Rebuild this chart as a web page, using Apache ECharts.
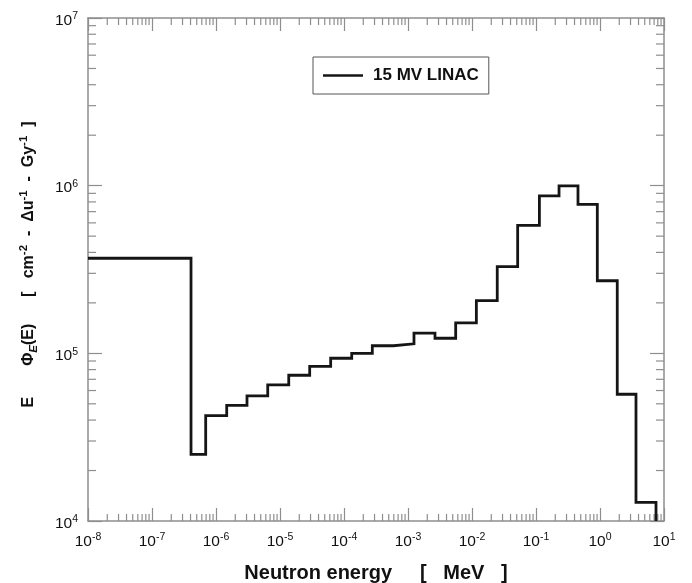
<!DOCTYPE html>
<html>
<head>
<meta charset="utf-8">
<script src="https://cdn.jsdelivr.net/npm/echarts@6/dist/echarts.min.js"></script>
<style>
html,body{margin:0;padding:0;background:#fff;}
#c{width:692px;height:583px;}
</style>
</head>
<body>
<div id="c"></div>
<script>
// Bin edges (MeV) of the step histogram
var binEdges = [1e-8, 4.07e-7, 6.9e-7, 1.47e-6, 3.05e-6, 6.43e-6, 1.37e-5, 2.91e-5, 6.19e-5,
  1.32e-4, 2.77e-4, 5.89e-4, 1.24e-3, 2.64e-3, 5.56e-3, 1.17e-2, 2.48e-2, 5.17e-2,
  0.113, 0.229, 0.453, 0.908, 1.86, 3.65, 7.5];
// Lethargy fluence per unit dose in each bin
var binValues = [3.69e5, 2.5e4, 4.25e4, 4.9e4, 5.57e4, 6.48e4, 7.4e4, 8.37e4, 9.35e4,
  1.0e5, 1.11e5, 1.14e5, 1.32e5, 1.23e5, 1.52e5, 2.06e5, 3.29e5, 5.8e5,
  8.68e5, 9.96e5, 7.74e5, 2.71e5, 5.7e4, 1.29e4];
var seriesName = '15 MV LINAC';
var xDecades = [-8, -7, -6, -5, -4, -3, -2, -1, 0, 1];
var yDecades = [4, 5, 6, 7];
var xMin = 1e-8, xMax = 10, yMin = 1e4, yMax = 1e7;

var FONT = '"Liberation Sans", Arial, Helvetica, sans-serif';
var AXIS_COLOR = '#8e8e8e';

// Build step path
var stepData = [];
for (var i = 0; i < binValues.length; i++) {
  stepData.push([binEdges[i], binValues[i]]);
  stepData.push([binEdges[i + 1], binValues[i]]);
}
stepData.push([binEdges[binEdges.length - 1], yMin]);

// Minor tick values
var minorTicks = [];
for (var d = 0; d < xDecades.length - 1; d++) {
  for (var m = 2; m <= 9; m++) minorTicks.push([m * Math.pow(10, xDecades[d]), yMin, 0]);
}
for (var d2 = 0; d2 < yDecades.length - 1; d2++) {
  for (var m2 = 2; m2 <= 9; m2++) minorTicks.push([xMin, m2 * Math.pow(10, yDecades[d2]), 1]);
}

function expLabel(v) {
  var e = Math.round(Math.log10(v));
  return '{b|10}{s|' + e + '}';
}
var labelRich = {
  b: {fontSize: 15.5, fontFamily: FONT, color: '#111', lineHeight: 20},
  s: {fontSize: 10.5, fontFamily: FONT, color: '#111', verticalAlign: 'top', lineHeight: 20}
};
var labelRichY = {
  b: {fontSize: 15.5, fontFamily: FONT, color: '#111', lineHeight: 20, padding: [5, 0, 0, 0]},
  s: {fontSize: 10.5, fontFamily: FONT, color: '#111', verticalAlign: 'top', lineHeight: 20, padding: [3, 0, 0, 0]}
};

var chart = echarts.init(document.getElementById('c'), null, {renderer: 'canvas'});
var baseAxisX = {
  type: 'log', logBase: 10, min: xMin, max: xMax,
  axisLine: {show: true, lineStyle: {color: AXIS_COLOR, width: 1.5}},
  axisTick: {show: true, inside: true, length: 13, lineStyle: {color: AXIS_COLOR, width: 1.2}},
  splitLine: {show: false},
  minorTick: {show: false}
};
var baseAxisY = {
  type: 'log', logBase: 10, min: yMin, max: yMax,
  axisLine: {show: true, lineStyle: {color: AXIS_COLOR, width: 1.5}},
  axisTick: {show: true, inside: true, length: 14, lineStyle: {color: AXIS_COLOR, width: 1.2}},
  splitLine: {show: false},
  minorTick: {show: false}
};

var option = {
  animation: false,
  backgroundColor: '#fff',
  grid: {left: 88, right: 28, top: 18, bottom: 62, containLabel: false, outerBoundsMode: 'none'},
  legend: {
    data: [{name: seriesName, icon: 'rect'}],
    left: 313, top: 57,
    padding: [10, 10, 10, 10],
    itemWidth: 40, itemHeight: 2.6,
    borderColor: '#555', borderWidth: 1,
    itemStyle: {color: '#151515'},
    textStyle: {fontSize: 17, fontWeight: 'bold', fontFamily: FONT, color: '#111', padding: [0, 0, 0, 5], lineHeight: 17}
  },
  xAxis: [
    Object.assign({}, baseAxisX, {
      position: 'bottom',
      name: 'Neutron energy     [   MeV   ]',
      nameLocation: 'middle', nameGap: 42,
      nameTextStyle: {fontSize: 20, fontWeight: 'bold', fontFamily: FONT, color: '#111'},
      axisLabel: {show: true, margin: 11, formatter: expLabel, rich: labelRich, showMinLabel: true, showMaxLabel: true, hideOverlap: false}
    }),
    Object.assign({}, baseAxisX, {position: 'top', axisLabel: {show: false}})
  ],
  yAxis: [
    Object.assign({}, baseAxisY, {
      position: 'left',
      name: 'E       Φ{sub|E}(E)      [   cm{sup|-2}  -  Δu{sup|-1}  -  Gy{sup|-1}  ]',
      nameLocation: 'middle', nameGap: 48, nameRotate: 90,
      nameTextStyle: {
        fontSize: 16, fontWeight: 'bold', fontFamily: FONT, color: '#111', lineHeight: 22,
        padding: [0, 0, 0, 10],
        rich: {
          sup: {fontSize: 11.5, fontWeight: 'bold', fontFamily: FONT, color: '#111', verticalAlign: 'top', lineHeight: 22},
          sub: {fontSize: 11.5, fontWeight: 'bold', fontStyle: 'italic', fontFamily: FONT, color: '#111', verticalAlign: 'bottom', lineHeight: 22}
        }
      },
      axisLabel: {show: true, margin: 10, formatter: expLabel, rich: labelRichY, showMinLabel: true, showMaxLabel: true, hideOverlap: false}
    }),
    Object.assign({}, baseAxisY, {position: 'right', axisLabel: {show: false}})
  ],
  series: [
    {
      name: seriesName,
      type: 'line',
      xAxisIndex: 0, yAxisIndex: 0,
      data: stepData,
      symbol: 'none',
      showSymbol: false,
      lineStyle: {color: '#151515', width: 2.8, join: 'miter'},
      itemStyle: {color: '#151515'},
      z: 5
    },
    {
      name: 'minorTicks',
      type: 'custom',
      xAxisIndex: 0, yAxisIndex: 0,
      data: minorTicks,
      silent: true,
      z: 3,
      renderItem: function (params, api) {
        var kind = api.value(2);
        var style = {stroke: AXIS_COLOR, lineWidth: 1.2};
        if (kind === 0) {
          var v = api.value(0);
          var b = api.coord([v, yMin]);
          var t = api.coord([v, yMax]);
          return {type: 'group', children: [
            {type: 'line', shape: {x1: b[0], y1: b[1], x2: b[0], y2: b[1] - 7}, style: style},
            {type: 'line', shape: {x1: t[0], y1: t[1], x2: t[0], y2: t[1] + 7}, style: style}
          ]};
        } else {
          var w = api.value(1);
          var l = api.coord([xMin, w]);
          var r = api.coord([xMax, w]);
          return {type: 'group', children: [
            {type: 'line', shape: {x1: l[0], y1: l[1], x2: l[0] + 8, y2: l[1]}, style: style},
            {type: 'line', shape: {x1: r[0], y1: r[1], x2: r[0] - 8, y2: r[1]}, style: style}
          ]};
        }
      }
    }
  ]
};
chart.setOption(option);
</script>
</body>
</html>
